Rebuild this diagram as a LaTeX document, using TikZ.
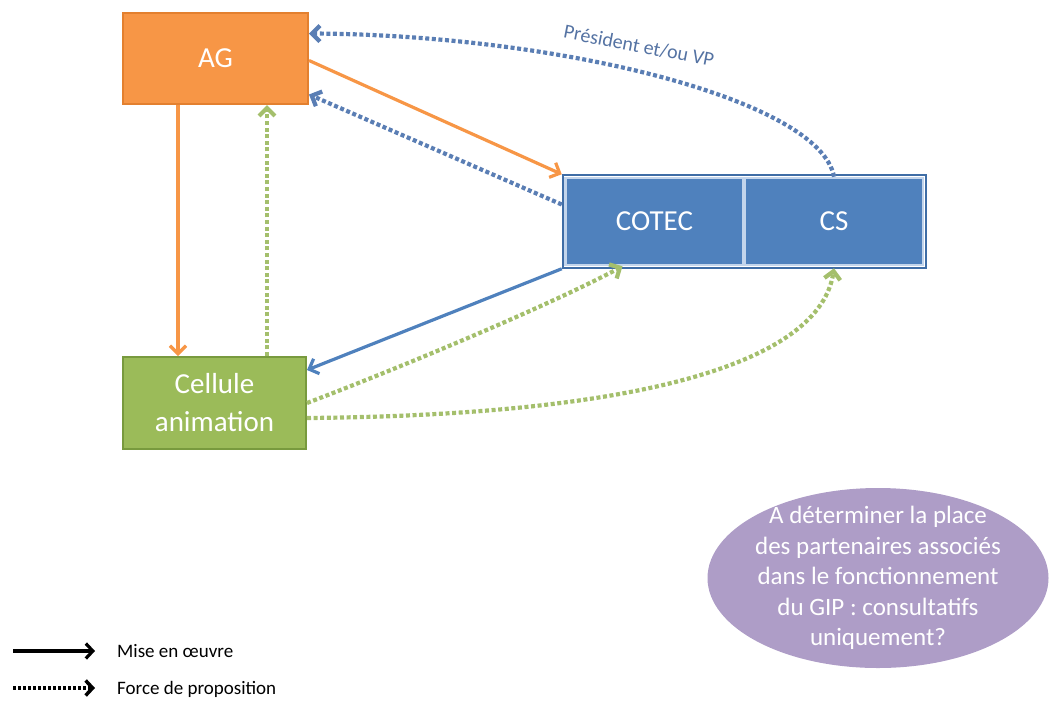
\documentclass[tikz,border=0pt]{standalone}
\usepackage{fontspec}
\setmainfont{Carlito}
\usetikzlibrary{arrows.meta,shapes.geometric,positioning,fit}
\definecolor{agfill}{HTML}{F79646}
\definecolor{agedge}{HTML}{E3802F}
\definecolor{cofill}{HTML}{4F81BD}
\definecolor{coedge}{HTML}{3F6DA6}
\definecolor{coglow}{HTML}{C3D5EC}
\definecolor{celfill}{HTML}{9BBB59}
\definecolor{celedge}{HTML}{789A3E}
\definecolor{gipfill}{HTML}{AE9DC7}
\definecolor{dotblue}{HTML}{5A7EB4}
\definecolor{dotgreen}{HTML}{A4BF6C}
\definecolor{prestxt}{HTML}{5573A3}
\begin{document}
\begin{tikzpicture}[x=1pt,y=-1pt,
  box/.style={rectangle,text=white,inner sep=0pt,font=\fontsize{29}{38}\selectfont,align=center},
  mise/.style={line width=3.2pt,-{Straight Barb[length=8pt,width=16pt]}},
  force/.style={line width=4.2pt,dash pattern=on 4pt off 2.6pt,-{Straight Barb[length=8pt,width=16pt]}}]
\useasboundingbox (0,0) rectangle (1049,702);

% boxes
\node[box,fill=agfill,draw=agedge,line width=2pt,minimum width=185pt,minimum height=91pt] (ag) at (215.5,58.5) {AG};
\node[box,fill=cofill,draw=coglow,line width=2.5pt,minimum width=178pt,minimum height=87pt] (cotec) at (654.5,221.5) {COTEC};
\node[box,fill=cofill,draw=coglow,line width=2.5pt,minimum width=178pt,minimum height=87pt] (cs) at (834,221.5) {CS};
\node[draw=coedge,line width=2pt,fit=(cotec)(cs),inner sep=1.5pt] (comites) {};
\node[box,fill=celfill,draw=celedge,line width=2pt,minimum width=183pt,minimum height=92pt] (cel) at (214.5,403) {Cellule\\animation};

% mise en oeuvre
\draw[mise,agfill] ([xshift=-37.5pt]ag.south) -- ([xshift=-36.5pt]cel.north);
\draw[mise,agfill] ([yshift=-2pt]ag.east) -- (comites.north west);
\draw[mise,cofill] (comites.south west) -- ([yshift=33pt]cel.east);

% force de proposition
\draw[force,dotgreen] ([xshift=52.5pt]cel.north) -- ([xshift=51.5pt]ag.south);
\draw[force,dotblue] ([yshift=17pt]comites.west) -- ([yshift=-36pt]ag.east);
\draw[force,dotblue] (cs.north) .. controls (820,100) and (560,35) .. ([yshift=25pt]ag.east);
\node[rotate=-11,text=prestxt,font=\fontsize{20}{24}\selectfont] (pres) at (639,46) {Président et/ou VP};
\draw[force,dotgreen] ([yshift=0pt]cel.east) .. controls (420,360) and (560,300) .. ([xshift=-32pt]cotec.south);
\draw[force,dotgreen] ([yshift=-15pt]cel.east) .. controls (650,415) and (820,360) .. ([yshift=-2pt]cs.south);

% question
\node[ellipse,fill=gipfill,minimum width=341pt,minimum height=180pt,inner sep=0pt] (gip) at (878,578) {};
\node[text=white,align=center,font=\fontsize{25}{30.5}\selectfont] (giptxt) at (gip.center) {A déterminer la place\\des partenaires associés\\dans le fonctionnement\\du GIP : consultatifs\\uniquement?};

% legend
\coordinate (misea) at (13,651);
\coordinate (miseb) at (95,651);
\coordinate (forcea) at (13,688);
\coordinate (forceb) at (95,688);
\draw[line width=3.2pt,-{Straight Barb[length=7pt,width=15pt]}] (misea) -- (miseb);
\draw[line width=3.5pt,dash pattern=on 3pt off 2pt,-{Straight Barb[length=7pt,width=15pt]}] (forcea) -- (forceb);
\node[anchor=west,font=\fontsize{19}{22}\selectfont,inner sep=0pt] (misetxt) at (117,651) {Mise en œuvre};
\node[anchor=west,font=\fontsize{19}{22}\selectfont,inner sep=0pt] (forcetxt) at (117,689) {Force de proposition};
\end{tikzpicture}
\end{document}
